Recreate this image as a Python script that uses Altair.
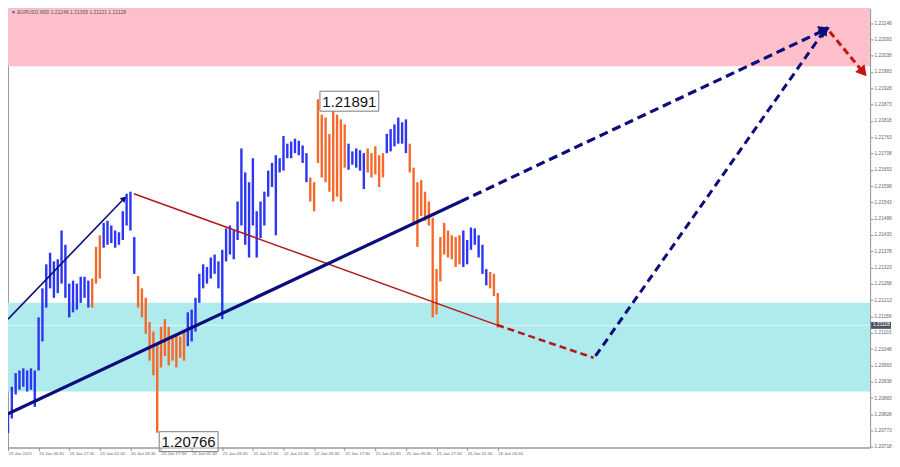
import math
import altair as alt
import pandas as pd

# ---------------- data ----------------
# hourly bars (index in 30-minute bars from 19 Jan 01:30)
bar_idx = list(range(0, 257, 2))
bar_hi = [1.20836, 1.20921, 1.20967, 1.20976, 1.20983, 1.20976, 1.20983, 1.20976, 1.21155, 1.21253,
          1.21334, 1.21373, 1.21344, 1.21351, 1.21448, 1.21400, 1.21269, 1.21279, 1.21269, 1.21292,
          1.21292, 1.21279, 1.21286, 1.21393, 1.21432, 1.21474, 1.21481, 1.21465, 1.21448, 1.21442,
          1.21513, 1.21572, 1.21579, 1.21426, 1.21295, 1.21253, 1.21221, 1.21139, 1.21107, 1.21068,
          1.21123, 1.21149, 1.21123, 1.21090, 1.21097, 1.21090, 1.21107, 1.21172, 1.21181, 1.21221,
          1.21302, 1.21334, 1.21325, 1.21357, 1.21367, 1.21344, 1.21383, 1.21455, 1.21465, 1.21448,
          1.21546, 1.21725, 1.21644, 1.21611, 1.21692, 1.21513, 1.21546, 1.21579, 1.21650, 1.21676,
          1.21702, 1.21692, 1.21767, 1.21741, 1.21748, 1.21758, 1.21751, 1.21735, 1.21709, 1.21627,
          1.21611, 1.21891, 1.21839, 1.21829, 1.21774, 1.21872, 1.21839, 1.21823, 1.21806, 1.21741,
          1.21715, 1.21725, 1.21719, 1.21709, 1.21725, 1.21709, 1.21732, 1.21702, 1.21709, 1.21774,
          1.21790, 1.21806, 1.21829, 1.21813, 1.21823, 1.21741, 1.21660, 1.21611, 1.21618, 1.21579,
          1.21546, 1.21491, 1.21318, 1.21426, 1.21474, 1.21448, 1.21432, 1.21426, 1.21432, 1.21448,
          1.21416, 1.21458, 1.21455, 1.21432, 1.21400, 1.21318, 1.21308, 1.21302, 1.21237]
bar_lo = [1.20765, 1.20814, 1.20895, 1.20911, 1.20921, 1.20905, 1.20911, 1.20853, 1.20976, 1.21074,
          1.21188, 1.21253, 1.21221, 1.21237, 1.21269, 1.21221, 1.21155, 1.21172, 1.21181, 1.21204,
          1.21221, 1.21188, 1.21188, 1.21269, 1.21286, 1.21390, 1.21400, 1.21406, 1.21390, 1.21400,
          1.21416, 1.21465, 1.21448, 1.21302, 1.21188, 1.21155, 1.21100, 1.21009, 1.20960, 1.20766,
          1.20986, 1.21025, 1.20993, 1.21009, 1.20986, 1.21019, 1.21009, 1.21058, 1.21074, 1.21107,
          1.21204, 1.21253, 1.21269, 1.21286, 1.21302, 1.21253, 1.21149, 1.21344, 1.21367, 1.21351,
          1.21416, 1.21465, 1.21400, 1.21357, 1.21465, 1.21357, 1.21422, 1.21465, 1.21562, 1.21595,
          1.21432, 1.21644, 1.21650, 1.21692, 1.21692, 1.21709, 1.21702, 1.21676, 1.21611, 1.21546,
          1.21513, 1.21676, 1.21627, 1.21611, 1.21579, 1.21546, 1.21562, 1.21546, 1.21660, 1.21653,
          1.21670, 1.21660, 1.21650, 1.21588, 1.21644, 1.21627, 1.21637, 1.21595, 1.21627, 1.21709,
          1.21715, 1.21732, 1.21741, 1.21741, 1.21709, 1.21644, 1.21471, 1.21393, 1.21497, 1.21481,
          1.21465, 1.21155, 1.21165, 1.21276, 1.21367, 1.21357, 1.21351, 1.21325, 1.21334, 1.21325,
          1.21334, 1.21383, 1.21400, 1.21357, 1.21302, 1.21263, 1.21253, 1.21227, 1.21121]
# colour runs of the bars: (wave, number of bars)
bar_runs = [("up", 22), ("down", 3), ("up", 9), ("down", 13), ("up", 32), ("down", 10),
            ("up", 5), ("down", 5), ("up", 6), ("down", 14), ("up", 7), ("down", 3)]

# zones (price top, price bottom)
pink_zone = [1.22197, 1.22002]
cyan_zone = [1.21204, 1.20905]
last_price = 1.21128

# wave lines: (index, price) pairs
thick_solid = [(0, 1.20830), (236.6, 1.21546)]
thick_dash = [(236.6, 1.21546), (427.0, 1.22125)]
thin_arrow = [(0, 1.21149), (60.7, 1.21556)]
red_solid = [(65.8, 1.21572), (255.7, 1.21129)]
red_dash = [(255.7, 1.21129), (306.1, 1.21019)]
navy_dash2 = [(307.1, 1.21025), (427.0, 1.22125)]
red_arrow = [(429.5, 1.22119), (447.0, 1.21982)]

# extreme labels
high_label = (162, 1.21891, "1.21891")
low_label = (78, 1.20766, "1.20766")

x_ticks = list(range(0, 257, 16))
x_labels = ["19 Jan 2021", "19 Jan 09:30", "19 Jan 17:30", "20 Jan 01:30", "20 Jan 09:30",
            "20 Jan 17:30", "21 Jan 01:30", "21 Jan 09:30", "21 Jan 17:30", "22 Jan 01:30",
            "22 Jan 09:30", "22 Jan 17:30", "25 Jan 01:30", "25 Jan 09:30", "25 Jan 17:30",
            "26 Jan 01:30", "26 Jan 09:30"]
y_ticks = [1.22148, 1.22093, 1.22038, 1.21983, 1.21928, 1.21873, 1.21818, 1.21763, 1.21708,
           1.21653, 1.21598, 1.21543, 1.21488, 1.21433, 1.21378, 1.21323, 1.21268, 1.21213,
           1.21158, 1.21103, 1.21048, 1.20993, 1.20938, 1.20883, 1.20828, 1.20773, 1.20718]
header = "\u25bc EURUSD,M30  1.21246 1.21305 1.21121 1.21128"

# ---------------- layout ----------------
W, H = 864, 440
X_MAX = 450.6
Y_MIN, Y_MAX = 1.20716, 1.22197
BLUE, ORANGE = "#2b35f2", "#f5692c"
NAVY, RED = "#0c0c7c", "#b31b1b"

xs = alt.Scale(domain=[0, X_MAX], nice=False, zero=False)
ys = alt.Scale(domain=[Y_MIN, Y_MAX], nice=False, zero=False)

waves = []
for w, n in bar_runs:
    waves += [w] * n
bars = pd.DataFrame({"i": bar_idx, "hi": bar_hi, "lo": bar_lo, "wave": waves})

labels_js = "[" + ",".join("'%s'" % s for s in x_labels) + "]"
x_axis = alt.Axis(values=x_ticks, labelExpr=labels_js + "[round(datum.value/16)]",
                  grid=False, labelFontSize=4.3, labelColor="#666", labelAlign="left",
                  labelBaseline="top", labelPadding=1, tickSize=3, tickColor="#999",
                  domainColor="#999", labelOverlap=False, labelFlush=False,
                  labelFont="Liberation Sans", title=None, zindex=1)
y_axis = alt.Axis(values=y_ticks, format=".5f", orient="right", grid=False, labelFontSize=4.8,
                  labelColor="#666", labelPadding=1, tickSize=3, tickColor="#999",
                  domainColor="#999", labelOverlap=False, labelFlush=False,
                  labelFont="Liberation Sans", title=None, zindex=1)

X = lambda f: alt.X(f, scale=xs, axis=x_axis)
Y = lambda f: alt.Y(f, scale=ys, axis=y_axis)


def zone_layer(z, color):
    df = pd.DataFrame({"top": [z[0]], "bot": [z[1]]})
    return alt.Chart(df).mark_rect(color=color).encode(
        x=alt.value(0), x2=alt.value(W), y=Y("top:Q"), y2="bot:Q")


price_line = alt.Chart(pd.DataFrame({"p": [last_price]})).mark_rule(
    color="white", opacity=0.55, strokeWidth=1).encode(
    y=Y("p:Q"), x=alt.value(0), x2=alt.value(W))

bar_layer = alt.Chart(bars).mark_rule(strokeWidth=2.4).encode(
    x=X("i:Q"), y=Y("hi:Q"), y2="lo:Q",
    color=alt.Color("wave:N", scale=alt.Scale(domain=["up", "down"], range=[BLUE, ORANGE]),
                    legend=None))


def seg_df(pts):
    return pd.DataFrame({"i": [p[0] for p in pts], "p": [p[1] for p in pts],
                         "o": list(range(len(pts)))})


def line_layer(pts, color, width, dash=None):
    kw = dict(color=color, strokeWidth=width)
    if dash:
        kw["strokeDash"] = dash
    return alt.Chart(seg_df(pts)).mark_line(**kw).encode(
        x=X("i:Q"), y=Y("p:Q"), order="o:Q")


def px(pt):
    return (pt[0] / X_MAX * W, (Y_MAX - pt[1]) / (Y_MAX - Y_MIN) * H)


def head_layer(pts, color, size):
    (x1, y1), (x2, y2) = px(pts[0]), px(pts[1])
    ang = math.degrees(math.atan2(x2 - x1, -(y2 - y1))) % 360
    df = pd.DataFrame({"i": [pts[1][0]], "p": [pts[1][1]], "a": [ang]})
    return alt.Chart(df).mark_point(shape="triangle-up", filled=True, opacity=1,
                                    color=color, size=size).encode(
        x=X("i:Q"), y=Y("p:Q"), angle=alt.Angle("a:Q", scale=None))


def label_layers(lab, dy):
    df = pd.DataFrame({"i": [lab[0]], "p": [lab[1]], "t": [lab[2]]})
    box = alt.Chart(df).mark_rect(fill="white", stroke="#7a7a7a", strokeWidth=1,
                                  xOffset=2, x2Offset=61, yOffset=dy - 10, y2Offset=dy + 10).encode(
        x=X("i:Q"), x2="i:Q", y=Y("p:Q"), y2="p:Q")
    txt = alt.Chart(df).mark_text(font="Liberation Sans", fontSize=15, color="#111",
                                  align="center", baseline="middle", dx=31.5, dy=dy + 0.5).encode(
        x=X("i:Q"), y=Y("p:Q"), text="t:N")
    return [box, txt]


tag_df = pd.DataFrame({"p": [last_price], "t": ["%.5f" % last_price]})
tag_box = alt.Chart(tag_df).mark_rect(fill="#4e5667", yOffset=-3.5, y2Offset=3.5).encode(
    x=alt.value(W + 1), x2=alt.value(W + 21), y=Y("p:Q"), y2="p:Q")
tag_txt = alt.Chart(tag_df).mark_text(font="Liberation Sans", fontSize=4.8, color="white",
                                      align="left", baseline="middle").encode(
    x=alt.value(W + 3), y=Y("p:Q"), text="t:N")

head_txt = alt.Chart(pd.DataFrame({"t": [header]})).mark_text(
    font="Liberation Sans", fontSize=5, color="#555", align="left", baseline="middle").encode(
    x=alt.value(3), y=alt.value(4), text="t:N")

layers = [zone_layer(pink_zone, "#ffc0cb"), zone_layer(cyan_zone, "#afebec"),
          price_line, bar_layer,
          line_layer(red_solid, RED, 1.5),
          line_layer(red_dash, RED, 2.6, [7, 4]),
          line_layer(thin_arrow, NAVY, 1.6),
          line_layer(thick_solid, NAVY, 3.2),
          line_layer(thick_dash, NAVY, 3.2, [9, 5]),
          line_layer(navy_dash2, NAVY, 3.0, [8, 5]),
          line_layer(red_arrow, "#c4160e", 3.0, [7, 4]),
          head_layer(thin_arrow, NAVY, 45),
          head_layer(thick_dash, NAVY, 170),
          head_layer(navy_dash2, NAVY, 120),
          head_layer(red_arrow, "#c4160e", 150),
          tag_box, tag_txt, head_txt]
layers += label_layers(high_label, 2)
layers += label_layers(low_label, 9)

chart = alt.layer(*layers).properties(
    width=W, height=H,
    padding={"left": -7, "top": 0, "right": 0, "bottom": 0}).configure_view(
    stroke="#9a9a9a", strokeWidth=1)

chart.save("out.html", embed_options={"renderer": "svg", "actions": False})
